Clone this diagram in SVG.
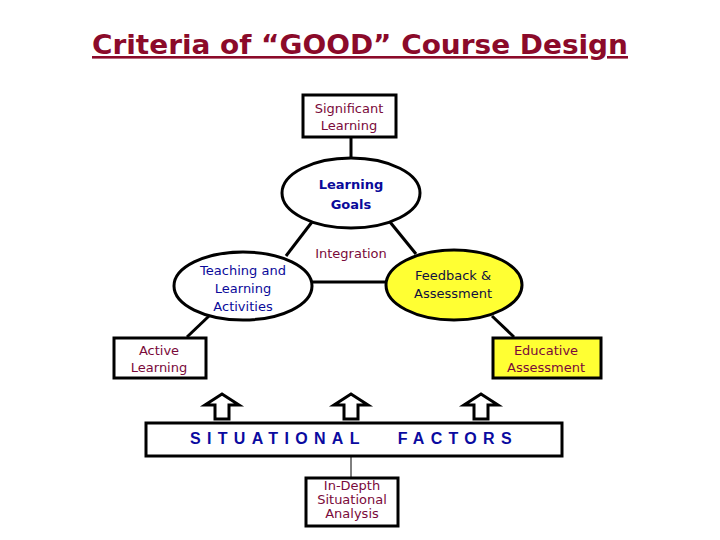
<svg xmlns="http://www.w3.org/2000/svg" width="720" height="540" viewBox="0 0 720 540">
<style>
.box{fill:#fff;stroke:#000;stroke-width:3}
.ell{fill:#fff;stroke:#000;stroke-width:3}
.ln{stroke:#000;stroke-width:3;fill:none}
.t{font-family:"DejaVu Sans",Verdana,sans-serif;font-size:13px;text-anchor:middle}
.m{fill:#7a0a3a}
.b{fill:#0a0a9a}
.arr{fill:#fff;stroke:#000;stroke-width:3}
</style>
<rect width="720" height="540" fill="#fff"/>
<text x="360" y="54" font-family="DejaVu Sans,Verdana,sans-serif" font-size="26" font-weight="bold" fill="#8b0a2a" text-anchor="middle" text-decoration="underline" textLength="536" lengthAdjust="spacingAndGlyphs">Criteria of “GOOD” Course Design</text>
<g id="connectors">
<line class="ln" x1="351" y1="138" x2="351" y2="158"/>
<line class="ln" x1="312" y1="222" x2="286" y2="256"/>
<line class="ln" x1="390" y1="222" x2="416" y2="254"/>
<line class="ln" x1="312" y1="282" x2="386" y2="282"/>
<line class="ln" x1="209" y1="316" x2="187" y2="337" stroke-width="2"/>
<line class="ln" x1="492" y1="316" x2="514" y2="337" stroke-width="2"/>
<line x1="351" y1="456" x2="351" y2="477" stroke="#000" stroke-width="1"/>
<path class="arr" d="M205,405 L222,394 L239,405 L229,405 L229,419 L215,419 L215,405 Z"/>
<path class="arr" d="M334,405 L351,394 L368,405 L358,405 L358,419 L344,419 L344,405 Z"/>
<path class="arr" d="M464,405 L481,394 L498,405 L488,405 L488,419 L474,419 L474,405 Z"/>
</g>
<g id="significant"><rect class="box" x="303" y="95" width="93" height="42"/>
<text class="t m" x="349" y="113">Significant</text><text class="t m" x="349" y="130">Learning</text></g>
<g id="goals"><ellipse class="ell" cx="351" cy="193" rx="69" ry="35"/>
<text class="t b" x="351" y="189" font-weight="bold" font-size="15">Learning</text><text class="t b" x="351" y="209" font-weight="bold" font-size="15">Goals</text></g>
<g id="integration"><text class="t m" x="351" y="258">Integration</text></g>
<g id="teaching"><ellipse class="ell" cx="243" cy="286" rx="69" ry="34"/>
<text class="t b" x="243" y="275">Teaching and</text><text class="t b" x="243" y="293">Learning</text><text class="t b" x="243" y="311">Activities</text></g>
<g id="feedback"><ellipse class="ell" cx="454" cy="285" rx="68" ry="35" style="fill:#ffff33"/>
<text class="t" x="453" y="280" fill="#101040">Feedback &amp;</text><text class="t" x="453" y="298" fill="#101040">Assessment</text></g>
<g id="active"><rect class="box" x="114" y="338" width="92" height="40"/>
<text class="t m" x="159" y="355">Active</text><text class="t m" x="159" y="372">Learning</text></g>
<g id="educative"><rect class="box" x="493" y="338" width="108" height="40" style="fill:#ffff33"/>
<text class="t m" x="546" y="355">Educative</text><text class="t m" x="546" y="372">Assessment</text></g>
<g id="situational"><rect class="box" x="146" y="423" width="416" height="33"/>
<text x="354" y="444" font-family="Liberation Sans,Arial,sans-serif" font-weight="bold" font-size="16" fill="#0a0aa0" text-anchor="middle" letter-spacing="6.3" xml:space="preserve">SITUATIONAL   FACTORS</text></g>
<g id="indepth"><rect class="box" x="306" y="478" width="92" height="48"/>
<text class="t m" x="352" y="490" font-size="11">In-Depth</text><text class="t m" x="352" y="504" font-size="11">Situational</text><text class="t m" x="352" y="518" font-size="11">Analysis</text></g>
</svg>
